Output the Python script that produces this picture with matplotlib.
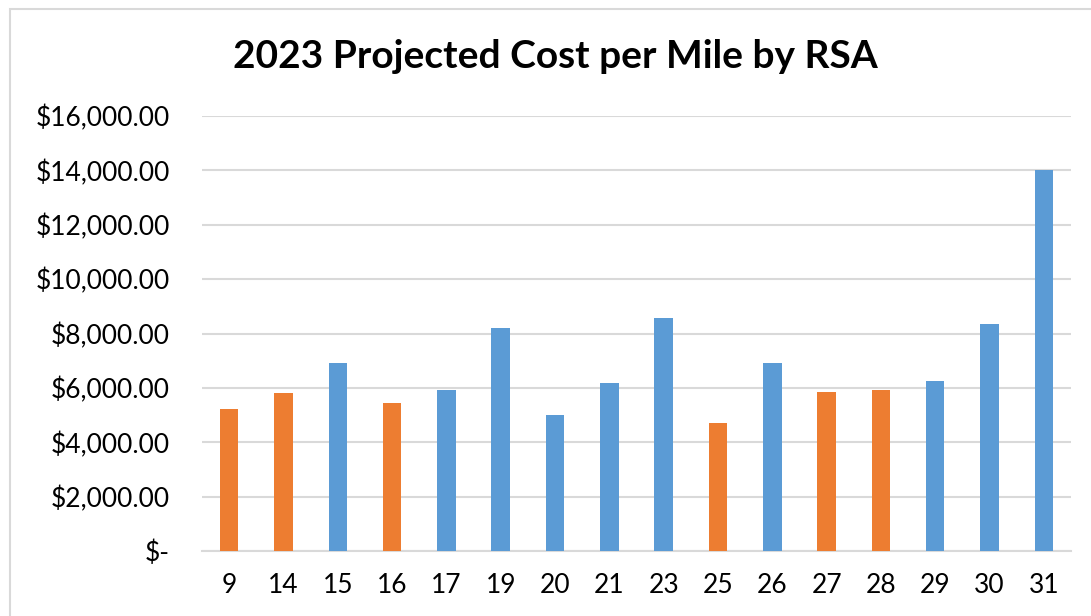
import matplotlib
matplotlib.use("Agg")
import matplotlib.pyplot as plt
from matplotlib.patches import Rectangle
from matplotlib.ticker import FuncFormatter

categories = ["9", "14", "15", "16", "17", "19", "20", "21", "23", "25", "26", "27", "28", "29", "30", "31"]
values = [5210, 5795, 6920, 5430, 5915, 8185, 5000, 6185, 8570, 4720, 6930, 5830, 5905, 6245, 8333, 14000]
groups = ["o", "o", "b", "o", "b", "b", "b", "b", "b", "o", "b", "o", "o", "b", "b", "b"]
title = "2023 Projected Cost per Mile by RSA"
yticks = [0, 2000, 4000, 6000, 8000, 10000, 12000, 14000, 16000]

colors = {"o": "#ED7D31", "b": "#5B9BD5"}
plt.rcParams['font.family'] = ['Lato', 'DejaVu Sans']

W, H = 1091, 616
fig = plt.figure(figsize=(W / 100, H / 100), dpi=100)
ax = fig.add_axes([202 / W, (H - 551) / H, (1071 - 202) / W, (551 - 116) / H])

x = list(range(len(categories)))
ax.bar(x, values, width=0.34, color=[colors[g] for g in groups], zorder=3)
ax.set_xlim(-0.5, len(categories) - 0.5)
ax.set_ylim(0, 16000)
ax.set_yticks(yticks)

def fmt(v, pos):
    if v == 0:
        return "$-"
    return "${:,.2f}".format(v)

ax.yaxis.set_major_formatter(FuncFormatter(fmt))
ax.set_xticks(x)
ax.set_xticklabels(categories)
ax.grid(axis="y", color="#D9D9D9", linewidth=1.5, zorder=0)
for s in ["top", "right", "left"]:
    ax.spines[s].set_visible(False)
ax.spines["bottom"].set_color("#D9D9D9")
ax.spines["bottom"].set_linewidth(1.5)
ax.tick_params(axis="both", length=0, labelsize=19, colors="black")
ax.tick_params(axis="y", pad=23)
ax.tick_params(axis="x", pad=16)

fig.text(555 / W, 1 - 57 / H, title, ha="center", va="center", fontsize=28, fontweight="bold")

border = Rectangle((10 / W, -0.1), 1.2, 1 - 9 / H + 0.1, transform=fig.transFigure,
                   fill=False, edgecolor="#D9D9D9", linewidth=1.5)
fig.patches.append(border)

fig.savefig("out.png", dpi=100)
